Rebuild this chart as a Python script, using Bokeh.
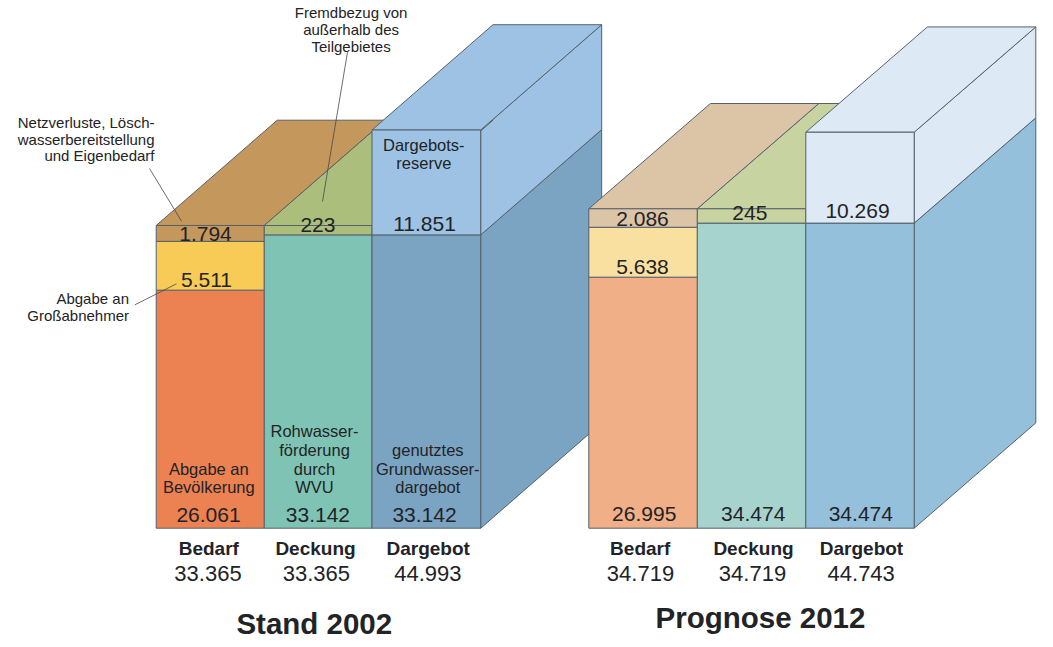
from bokeh.plotting import figure
from bokeh.models import Range1d
from bokeh.core.properties import value
from bokeh.embed import file_html
from bokeh.resources import INLINE

# ---------- data ----------
columns = ["Bedarf", "Deckung", "Dargebot"]
titles = ["Stand 2002", "Prognose 2012"]

bevoelkerung = [26061, 26995]
grossabnehmer = [5511, 5638]
netzverluste = [1794, 2086]
rohwasser = [33142, 34474]
fremdbezug = [223, 245]
genutzt = [33142, 34474]
reserve = [11851, 10269]
totals_bedarf = [33365, 34719]
totals_deckung = [33365, 34719]
totals_dargebot = [44993, 44743]
# The source drawing is not fully to scale: its Bedarf base and its Fremdbezug
# band are drawn taller than their printed numbers by this much.
drawn_excess = [838, 1371]

# ---------- colours ----------
ORANGE = ["#EC8152", "#F0AF87"]
YELLOW = ["#F8CB56", "#FAE0A0"]
BROWN = ["#C4975C", "#DCC4A6"]
TEAL = ["#7FC3B4", "#A7D3CE"]
GREEN = ["#ABBE7C", "#C8D3A2"]
SKY = ["#9DC2E3", "#DDE9F5"]
BLUE = ["#7BA3C2", "#94C0DC"]
EDGE = "#55616c"
INK = "#222326"
FONT = value("Liberation Sans")

# ---------- layout ----------
W, H = 1037, 645
OFF = 0                 # x range and text y use picture pixels
BASE_PX = 527.7         # picture y of value 0
K = 0.00885             # pixels per unit
COL_X = [[155.7, 263.6, 371.5, 480.2], [588.3, 696.7, 805.3, 913.7]]
DEPTH_X = [121.0, 121.6]
DEPTH_V = 105.3 / K


def v_at(px):
    """value-axis position of a picture-pixel height (for text and leaders)"""
    return (BASE_PX - px) / K


p = figure(width=W, height=H, output_backend="svg", toolbar_location=None,
           x_range=Range1d(OFF, OFF + W),
           y_range=Range1d(v_at(OFF + H), v_at(OFF)),
           x_axis_location=None, y_axis_location=None,
           min_border=0, outline_line_color=None, background_fill_color="white")
p.grid.visible = False


def front(x0, x1, v0, v1, color):
    p.quad(left=[x0], right=[x1], bottom=[v0], top=[v1], fill_color=color,
           line_color=EDGE, line_width=1)


def top_face(x0, x1, v, dx, color):
    p.patch([x0, x1, x1 + dx, x0 + dx], [v, v, v + DEPTH_V, v + DEPTH_V],
            fill_color=color, line_color=EDGE, line_width=1)


def side_face(x, v0, v1, dx, color):
    p.patch([x, x, x + dx, x + dx], [v0, v1, v1 + DEPTH_V, v0 + DEPTH_V],
            fill_color=color, line_color=EDGE, line_width=1)


for g in range(2):
    x0, x1, x2, x3 = COL_X[g]
    dx = DEPTH_X[g]
    b1 = bevoelkerung[g] + drawn_excess[g]
    b2 = b1 + grossabnehmer[g]
    b3 = b2 + netzverluste[g]
    d1 = rohwasser[g]
    d2 = d1 + fremdbezug[g] + drawn_excess[g]
    o1 = genutzt[g]
    o2 = o1 + reserve[g]

    # Dargebot side faces
    side_face(x3, 0, o1, dx, BLUE[g])
    side_face(x3, o1, o2, dx, SKY[g])
    # hidden-back tops
    top_face(x1, x2, d2, dx, GREEN[g])
    top_face(x0, x1, b3, dx, BROWN[g])
    # Deckung
    front(x1, x2, 0, d1, TEAL[g])
    front(x1, x2, d1, d2, GREEN[g])
    # Bedarf
    front(x0, x1, 0, b1, ORANGE[g])
    front(x0, x1, b1, b2, YELLOW[g])
    front(x0, x1, b2, b3, BROWN[g])
    # Dargebot
    top_face(x2, x3, o2, dx, SKY[g])
    front(x2, x3, 0, o1, BLUE[g])
    front(x2, x3, o1, o2, SKY[g])


def fmt(v):
    return f"{v:,}".replace(",", ".")


def label(x, y_px, s, size, weight="normal", align="center"):
    p.text([x], [v_at(y_px)], text=[s], text_font=FONT, text_font_size=size,
           text_font_style=weight, text_color=INK, text_align=align,
           text_baseline="middle")


def leader(x_a, y_a, x_b, y_b):
    p.line([x_a, x_b], [v_at(y_a), v_at(y_b)], line_color="#444a50", line_width=0.8)


NUM = "21px"
INNER = "16.5px"
NOTE = "15px"

# Stand 2002 numbers
label(205, 233.3, fmt(netzverluste[0]), NUM)
label(206, 279.3, fmt(grossabnehmer[0]), NUM)
label(208, 514, fmt(bevoelkerung[0]), NUM)
label(317.4, 224, fmt(fremdbezug[0]), NUM)
label(317.4, 514, fmt(rohwasser[0]), NUM)
label(424, 223, fmt(reserve[0]), NUM)
label(424, 514, fmt(genutzt[0]), NUM)

# Prognose 2012 numbers
label(642, 218.3, fmt(netzverluste[1]), NUM)
label(642, 266, fmt(grossabnehmer[1]), NUM)
label(643.7, 513.7, fmt(bevoelkerung[1]), NUM)
label(749.3, 212.7, fmt(fremdbezug[1]), NUM)
label(752.7, 513.7, fmt(rohwasser[1]), NUM)
label(857, 210.3, fmt(reserve[1]), NUM)
label(860.3, 513.7, fmt(genutzt[1]), NUM)

# inner descriptions
for s, x, y in [("Abgabe an", 208.3, 468.3), ("Bevölkerung", 208.3, 486.7),
                ("Rohwasser-", 314, 430.7), ("förderung", 314, 449.7),
                ("durch", 314, 468), ("WVU", 314, 486.7),
                ("genutztes", 427.3, 449.3), ("Grundwasser-", 427.3, 468),
                ("dargebot", 427.3, 486.7),
                ("Dargebots-", 423.3, 144), ("reserve", 423.3, 162.3)]:
    label(x, y, s, INNER)

# outside notes
for s, y in [("Netzverluste, Lösch-", 121.7), ("wasserbereitstellung", 138.7),
             ("und Eigenbedarf", 155.3)]:
    label(154, y, s, NOTE, align="right")
for s, y in [("Fremdbezug von", 12), ("außerhalb des", 29), ("Teilgebietes", 45.7)]:
    label(350.6, y, s, NOTE)
for s, y in [("Abgabe an", 298), ("Großabnehmer", 315)]:
    label(128.5, y, s, NOTE, align="right")

leader(149, 168, 181, 220.7)
leader(347, 51.7, 322, 201)
leader(134.4, 304.3, 176, 283.3)

# column heads and totals
HEAD_X = [[208.3, 315, 427.7], [639.7, 753, 861]]
TOTAL_X = [[207.5, 315.8, 427.3], [640, 752, 860.7]]
for g in range(2):
    for i, name in enumerate(columns):
        label(HEAD_X[g][i], 548, name, "19px", "bold")
    for i, vals in enumerate([totals_bedarf, totals_deckung, totals_dargebot]):
        label(TOTAL_X[g][i], 572.7, fmt(vals[g]), "22px")

label(313.8, 622.7, titles[0], "29.5px", "bold")
label(760, 617.3, titles[1], "29.5px", "bold")

open("out.html", "w").write(file_html(p, INLINE))
